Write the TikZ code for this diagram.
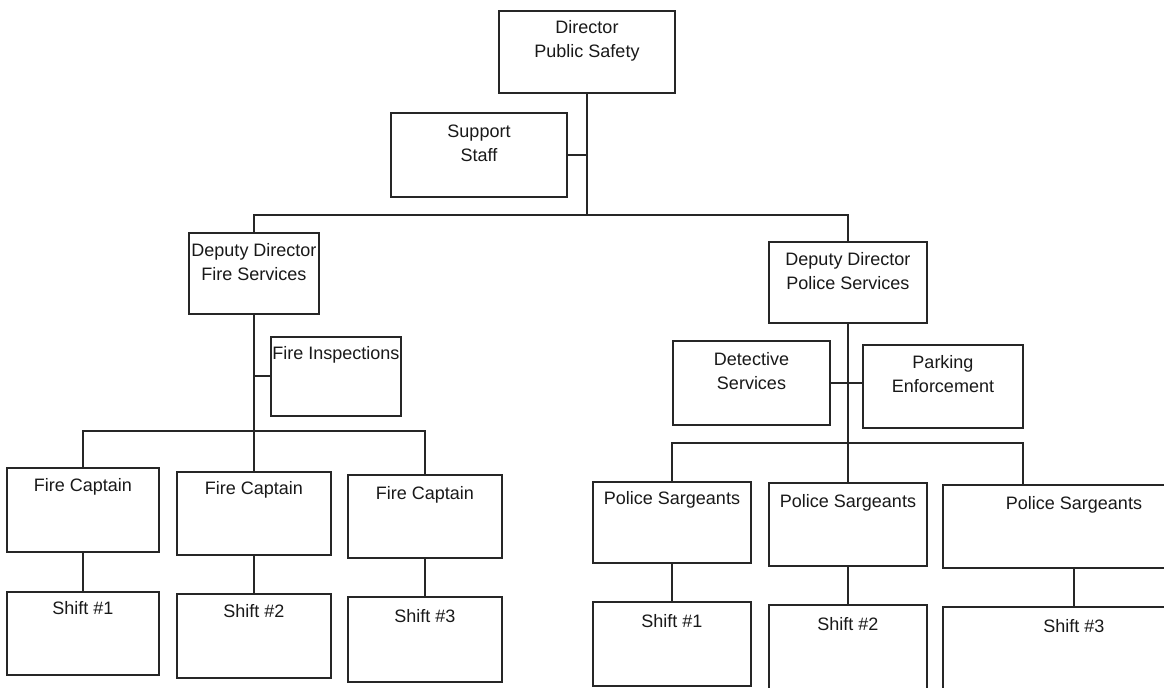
\documentclass[tikz,border=0pt]{standalone}
\usepackage{fontspec}
\setmainfont{Liberation Sans}
\begin{document}
\begin{tikzpicture}[x=0.5pt,y=-0.5pt,
  box/.style={draw=black!85, line width=1pt, rectangle, inner sep=0pt},
  lbl/.style={font=\fontsize{9}{12}\selectfont, align=center, inner sep=0pt, text=black!90},
  conn/.style={draw=black!85, line width=1pt}]
\clip (0,0) rectangle (1164,688);
\fill[white] (0,0) rectangle (1164,688);
\newcommand\obox[7]{%
  \node[box, minimum width={(#4-#2)*0.5pt}, minimum height={(#5-#3)*0.5pt}] (#1) at ({(#2+#4)/2},{(#3+#5)/2}) {};
  \node[lbl] (#1-t) at ({(#2+#4)/2},#6) {#7};}
% top
\obox{dir}{499}{11}{675}{93}{40.5}{Director\\Public Safety}
\obox{sup}{391}{113}{567}{197}{143.5}{Support\\Staff}
\obox{dff}{189}{233}{319}{314}{262.5}{Deputy Director\\Fire Services}
\obox{dps}{769}{242}{927}{323}{271.5}{Deputy Director\\Police Services}
% fire
\obox{fi}{271}{337}{401}{416}{355}{Fire Inspections}
\obox{fc1}{7}{468}{159}{552}{487}{Fire Captain}
\obox{fc2}{177}{472}{331}{555}{490}{Fire Captain}
\obox{fc3}{348}{475}{502}{558}{495}{Fire Captain}
\obox{fs1}{7}{592}{159}{675}{608}{Shift \#1}
\obox{fs2}{177}{594}{331}{678}{611}{Shift \#2}
\obox{fs3}{348}{597}{502}{682}{616}{Shift \#3}
% police
\obox{det}{673}{341}{830}{425}{371}{Detective\\Services}
\obox{park}{863}{345}{1023}{428}{374.5}{Parking\\Enforcement}
\obox{ps1}{593}{482}{751}{563}{500}{Police Sargeants}
\obox{ps2}{769}{483}{927}{566}{503}{Police Sargeants}
\obox{ps3}{943}{485}{1205}{568}{505}{Police Sargeants}
\obox{pss1}{593}{602}{751}{686}{621}{Shift \#1}
\obox{pss2}{769}{605}{927}{690}{624}{Shift \#2}
\obox{pss3}{943}{607}{1205}{692}{626}{Shift \#3}
% connectors
\coordinate (tj) at (587,215);
\coordinate (fj) at (254,431);
\coordinate (pj) at (848,443);
\coordinate (pr) at (1023,443);
\draw[conn] (dir.south) -- (tj);
\draw[conn] (sup.east) -- (sup.east -| tj);
\draw[conn] (dff.north) |- (tj) -| (dps.north);
\draw[conn] (dff.south) -- (dff.south |- fc2.north);
\draw[conn] (fi.west) -- (fi.west -| dff.south);
\draw[conn] (fc1.north) |- (fj) -| (fc3.north);
\draw[conn] (fc1.south) -- (fs1.north);
\draw[conn] (fc2.south) -- (fs2.north);
\draw[conn] (fc3.south) -- (fs3.north);
\draw[conn] (dps.south) -- (dps.south |- ps2.north);
\draw[conn] (det.east) -- (det.east -| park.west);
\draw[conn] (ps1.north) |- (pr) -- (pr |- ps3.north);
\draw[conn] (ps1.south) -- (pss1.north);
\draw[conn] (ps2.south) -- (pss2.north);
\draw[conn] (ps3.south) -- (pss3.north);
\end{tikzpicture}
\end{document}
